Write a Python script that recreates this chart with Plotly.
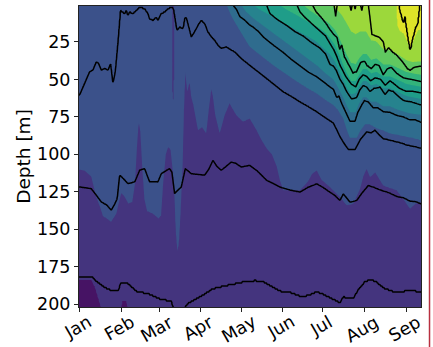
import numpy as np
import pandas as pd
import plotly.graph_objects as go
from plotly.colors import sample_colorscale

# ------------------------------------------------------------------ DATA
base_date = "2019-01-01"
month_labels = ["Jan", "Feb", "Mar", "Apr", "May", "Jun", "Jul", "Aug", "Sep"]
month_ticks = ["2019-01-01", "2019-02-01", "2019-03-01", "2019-04-01", "2019-05-01",
               "2019-06-01", "2019-07-01", "2019-08-01", "2019-09-01"]
depth_ticks = [25, 50, 75, 100, 125, 150, 175, 200]

# black contour lines (day since Jan 1, depth in m), deepest first
line_a_day = [0, 8.4, 13.4, 20.9, 28.3, 30.3, 35.8, 42, 50.7, 60.6, 68, 70.5, 74, 77.5, 80, 83, 88, 93,
              97.9, 103, 107.8, 116, 125, 131, 136.6, 143, 149, 157, 164, 170, 176.4, 181, 186.3, 193.7,
              196.2, 203.7, 207.4, 212, 216.1, 221, 226, 231, 236, 242, 248.4, 254]
line_a_depth = [182, 181, 185.3, 189.8, 191, 186, 186, 191, 192.7, 196.5, 197.6, 204, 207, 203, 199.5, 198,
                195.3, 193, 189.8, 188.5, 187.5, 186, 184.2, 184, 184.6, 188, 190.9, 192, 194.2, 194, 191.3,
                193, 195.3, 198.7, 194.9, 195.8, 189.8, 185, 183.1, 185, 188.7, 190.5, 192, 191, 190.5, 192]

line_b_day = [0, 8.4, 12.2, 15.9, 20, 23.3, 25.5, 27.8, 29.6, 32, 35.8, 40.8, 44.5, 48.2, 51.9, 58.1, 60.6,
              66.8, 68.5, 70.5, 73, 75.5, 78.5, 83, 88, 92.9, 96, 99.1, 102, 105.3, 109, 112.7, 116, 120.2,
              126.4, 132, 139.1, 144, 149, 157, 164, 170, 176.4, 181, 185, 190, 193.7, 196.2, 201.2, 206.2,
              210, 214.8, 219, 223.5, 230, 236, 241, 245.9, 250, 254]
line_b_depth = [121.9, 123, 127.4, 131.9, 134, 137.4, 134, 129.7, 114, 116, 119.7, 118.5, 110.7, 109.6, 118.5,
                118.5, 113, 109.6, 112, 126.3, 124, 121.9, 109.6, 113, 113.5, 114, 110, 104, 108, 110.7, 108,
                105.2, 106, 108.5, 107.4, 111, 117.4, 119.5, 121.9, 124, 125.2, 122, 119.7, 122, 124.5, 127.5,
                130.8, 126.3, 131.9, 130.8, 126, 120.8, 122, 123.7, 125.5, 128.1, 129, 131.2, 131.5, 133]

line_c_day = [-0.25, 3.5, 7.2, 9.7, 12.2, 13.9, 15.9, 18.4, 20.9, 22.9, 24.6, 26.3, 28.3, 30.1, 33.3, 34.5,
              35.8, 37, 39.5, 42, 44.5, 48.2, 50.7, 51.9, 54.4, 56.9, 58.1, 60.6, 63.1, 65.6, 68.1, 69.8, 71,
              72.3, 74.3, 76.8, 78, 79.2, 80.5, 83, 85.4, 87.9, 90.4, 92.9, 95.4, 97.9, 100.3, 102.8, 105.3,
              109, 112.8, 115.3, 120.2, 126.4, 133, 139.1, 145, 151.5, 158, 163.9, 170, 176.4, 182, 188.8,
              191, 193.8, 197, 200, 205, 209, 213.6, 217, 219.8, 223, 226, 231, 236, 240, 243.5, 248, 254]
line_c_depth = [60.4, 52.6, 44.8, 43.7, 38.1, 39.2, 43.7, 42.6, 43.7, 39.2, 52.6, 44.8, 24.8, 3.6, 5.8, 3.6,
                7, 4.7, 5.8, 3.6, 1.4, 2.5, 5.8, 9.2, 10.3, 8.1, 10.3, 5.8, 4.7, 2.5, 1.4, 2.5, 9.2, 17, 14.8,
                15.9, 9.2, 8.1, 12.5, 21.4, 18.1, 13.6, 10.3, 12.5, 18.1, 21.4, 23.7, 27, 29.2, 28.1, 30.3,
                31.5, 35.9, 40.4, 45, 49.3, 53.5, 58.2, 61.5, 64.9, 68, 71.5, 75, 79, 83, 88.2, 93, 96.7, 96.7,
                90, 85, 85.5, 83.8, 87, 89.5, 90.5, 91.6, 92.5, 93.8, 94.5, 95.8]

line_d_day = [0, 111, 114, 116.5, 119.2, 122.7, 126.4, 129, 133, 137, 144, 151.5, 158, 164, 170, 176.4, 182,
              186.3, 188.8, 191.3, 193, 195, 198.7, 201.2, 204.9, 207, 209.9, 212, 214.9, 218.6, 222, 226,
              231, 236, 241, 245.9, 250, 254]
line_d_depth = [-3, -3, 0, 3, 8, 10.3, 13.6, 15, 18, 22, 27, 32, 37, 41, 45, 48.2, 52, 55, 56.5, 62, 61, 66,
                73, 78, 78, 72, 67, 64, 65, 69, 69, 71.5, 72, 74, 75, 77, 77, 78.5]

line_e_day = [0, 136, 139, 141.6, 147, 154, 160, 166.4, 172, 178.8, 183, 186.3, 188.8, 191, 193.8, 196,
              198.7, 202.4, 206.2, 208.5, 211.1, 213.5, 216.1, 219, 223.6, 227.3, 230, 233.5, 237, 241, 247, 254]
line_e_depth = [-6, -6, 0, 6, 10, 14, 18, 21, 25, 29, 33, 40, 41, 44, 50, 53, 58, 63, 62, 57, 54, 55, 58, 56,
                55, 60, 57, 58, 61, 64, 65, 67]

line_f_day = [0, 158, 161.5, 164, 168, 173, 178, 183, 186.3, 189, 191.5, 194, 198, 202, 205.5, 208, 211,
              213.5, 216.5, 220, 224, 227.5, 231, 234, 238, 243, 248, 254]
line_f_depth = [-9, -9, 0, 5, 9, 13, 17, 21, 26, 30, 35, 41, 48, 53, 55, 50, 47, 48, 51, 49, 50, 54, 51, 53,
                56, 58, 58, 59]

line_g_day = [0, 170, 173, 176, 180, 183.5, 186.3, 189, 191.5, 193.5, 195, 197, 200, 203.5, 206, 209, 212,
              214, 217, 220, 223, 226, 229, 232, 236, 241, 247, 254]
line_g_depth = [-12, -12, 0, 5, 9, 13, 17, 20, 22, 30, 27, 35, 40, 46, 45, 39, 38, 41, 43, 40, 41, 47, 43,
                42, 46, 49, 50, 51.5]

line_h_day = [0, 187, 189, 190.5, 192, 194, 200, 202, 203.5, 205, 206.5, 208.5, 210, 211.5, 214.5, 216,
              217.5, 220, 223, 226, 227.5, 230, 233, 236, 240, 244, 246, 249, 254]
line_h_depth = [-15, -15, -2, 8, -2, -10, -4, 4, -3, 3, -5, -2, 4, -3, -3, 8, 20, 21, 22, 25, 32, 29, 32,
                34, 38, 43, 44, 42, 41.5]

line_i_day = [0, 235, 237.2, 238.5, 239.7, 241, 242.2, 243.4, 244.7, 246.2, 247.4, 248.6, 250, 251.4, 252.9, 254]
line_i_depth = [-18, -18, 0, 9, 12.5, 17, 12, 20, 28, 35, 29, 25, 20, 18, 6, -2]

# filled-band boundaries (band k-1 below / band k above), deepest first
fill_b1_day = [0, 8.4, 11, 14, 16.5, 19, 29, 30.3, 31.5, 34.5, 35.8, 37.5, 254]
fill_b1_depth = [184, 183, 188, 197, 204, 215, 215, 203, 198, 198, 203, 215, 215]

fill_b2_day = [0, 3.5, 8.4, 12.2, 14.9, 17.1, 20, 23.3, 25.5, 27.3, 28.3, 30.8, 33, 36, 39, 41, 42.5, 43.8,
               45, 46.5, 48, 50, 54.7, 58.5, 60.5, 62, 64, 65.8, 67.5, 69, 70.2, 71.2, 72.5, 73.8, 75, 76.5,
               77.5, 78.5, 80, 81.7, 83, 84.5, 87.9, 91, 94.1, 96, 97.9, 99.2, 100.8, 102.5, 104.1, 106,
               107.8, 111.5, 114, 116.5, 119, 121.5, 126.4, 131.7, 135, 139.1, 143, 146.6, 149, 151.5, 158,
               164, 170, 173, 176.4, 180, 186.3, 193.7, 198.7, 203.7, 208.7, 211, 213.6, 216.1, 220, 226,
               236, 241, 245.9, 250, 254]
fill_b2_depth = [110.5, 111, 115, 129, 135, 141.5, 143, 145.2, 142, 139.5, 135, 126, 128, 133, 132, 120, 95,
                 78, 85, 110, 130, 138, 140, 143, 141, 120, 100, 95, 97, 110, 122, 150, 165, 160, 140, 108,
                 70, 45, 58, 51.5, 62, 67, 83.8, 82, 86, 70, 56, 62, 73.8, 80, 86, 80, 73.8, 66, 70, 73.8,
                 76, 78.2, 76, 84, 90, 96, 100, 108, 117.4, 124, 124, 124, 118, 113, 110.7, 117, 121.9,
                 128.5, 134.1, 133, 123, 115, 109.6, 115.2, 112, 120.8, 124, 130, 136.3, 133, 131.9]

fill_b3_day = [0, 107, 109.5, 112, 115.3, 119, 122.7, 126.4, 132, 139.1, 145, 151.5, 158, 163.9, 170, 176.4,
               182, 188.8, 192, 196.2, 199, 201.2, 206.2, 209, 212.4, 216, 221.1, 226, 231, 237, 243.4, 248, 254]
fill_b3_depth = [-3, -3, 0, 6, 11.4, 17, 22.5, 28, 32, 37, 41, 45, 49, 52.6, 56, 59.3, 63, 67, 70, 76, 84,
                 89, 89, 84, 80, 80, 82.6, 84, 86, 87, 88.2, 89, 90.5]

fill_b4_day = [0, 117, 120, 124, 129, 135, 141, 147, 153, 159, 165, 171, 177, 183, 188.8, 192, 196, 199,
               201.5, 205.5, 208, 211, 213.5, 217, 221, 226, 231, 236, 243, 248, 254]
fill_b4_depth = [-6, -6, 0, 5, 9, 13, 17, 21, 25, 29, 33, 37, 41, 46, 50, 55, 62, 68, 72, 72, 66, 62, 62,
                 65, 65, 68, 68, 70, 72, 73, 73.5]

fill_b5_day = [0, 126, 129, 133, 139, 145, 151, 157, 163, 169, 175, 180, 186, 190, 193, 196, 199, 202,
               205.5, 208, 211, 213.5, 217, 221, 226, 231, 236, 243, 248, 254]
fill_b5_depth = [-9, -9, 0, 3, 6, 9, 12, 15, 18, 21, 24, 28, 33, 38, 44, 50, 56, 60, 59, 55, 51, 51, 54,
                 53, 56, 56, 58, 61, 62, 63]

fill_b6_day = [0, 145, 148, 153, 159, 165, 171, 177, 182, 186, 190, 193, 196, 199, 202, 205.5, 208, 211,
               213.5, 217, 221, 226, 231, 236, 243, 248, 254]
fill_b6_depth = [-12, -12, 0, 3, 6, 9, 12, 15, 18, 22, 27, 33, 40, 46, 51, 51, 47, 43, 43, 46, 45, 48, 48,
                 50, 53, 54, 55]

fill_b7_day = [0, 163, 166, 171, 176, 181, 186, 190, 193, 196, 199, 202, 205.5, 208, 211, 213.5, 217, 221,
               226, 231, 236, 243, 248, 254]
fill_b7_depth = [-15, -15, 0, 4, 7, 10, 13, 17, 22, 28, 34, 39, 40, 36, 33, 33, 37, 36, 40, 40, 42, 45, 46, 47]

fill_b8_day = [0, 184, 187, 191, 195, 199, 202, 205.5, 209, 213, 217, 221, 226, 231, 236, 243, 248, 254]
fill_b8_depth = [-18, -18, 0, 3, 7, 13, 18, 20, 18, 18, 24, 25, 30, 31, 33, 37, 38.5, 38]

fill_b9_day = [0, 233.5, 235.5, 236.5, 238, 241, 244, 246, 248, 250, 252, 254]
fill_b9_depth = [-21, -21, 0, 18, 22, 24, 30, 34, 30, 25, 22, 21]

# thin purple intrusion from the surface in early March
intrusion_day = [68.5, 69.0, 69.5, 70.0, 70.5]
intrusion_depth = [0, 58, 63, 50, 0]

# ------------------------------------------------------------------ FIELDS
grid_days = np.arange(-1.0, 255.5, 0.5)
grid_depth = np.arange(0.0, 211.0, 1.0)


def build_field(curves):
    n = len(curves)
    B = np.vstack([np.interp(grid_days, d, v) for d, v in curves])
    levels = np.arange(n) + 0.5
    Z = np.empty((grid_depth.size, grid_days.size))
    for j in range(grid_days.size):
        xp = np.concatenate(([-1e4], B[::-1, j], [1e4]))
        fp = np.concatenate(([n + 0.5], levels[::-1], [-0.5]))
        Z[:, j] = np.interp(grid_depth, xp, fp)
    return Z


fill_curves = [(fill_b1_day, fill_b1_depth), (fill_b2_day, fill_b2_depth), (fill_b3_day, fill_b3_depth),
               (fill_b4_day, fill_b4_depth), (fill_b5_day, fill_b5_depth), (fill_b6_day, fill_b6_depth),
               (fill_b7_day, fill_b7_depth), (fill_b8_day, fill_b8_depth), (fill_b9_day, fill_b9_depth)]
line_curves = [(line_a_day, line_a_depth), (line_b_day, line_b_depth), (line_c_day, line_c_depth),
               (line_d_day, line_d_depth), (line_e_day, line_e_depth), (line_f_day, line_f_depth),
               (line_g_day, line_g_depth), (line_h_day, line_h_depth), (line_i_day, line_i_depth)]

Zfill = build_field(fill_curves)
intr = np.interp(grid_days, intrusion_day, intrusion_depth, left=0, right=0)
for j in np.where(intr > 0)[0]:
    Zfill[grid_depth <= intr[j], j] = 1.0
Zline = build_field(line_curves)

t0 = pd.Timestamp(base_date)
xdates = (t0 + pd.to_timedelta(grid_days, unit="D")).strftime("%Y-%m-%d %H:%M").tolist()
x_range = [(t0 + pd.Timedelta(days=-0.7)).strftime("%Y-%m-%d %H:%M"),
           (t0 + pd.Timedelta(days=254.1)).strftime("%Y-%m-%d %H:%M")]

band_colors = sample_colorscale("Viridis", [(k + 0.5) / 10 for k in range(10)])
fill_scale = [[k / 9, band_colors[k]] for k in range(10)]

# ------------------------------------------------------------------ FIGURE
fig = go.Figure()
fig.add_trace(go.Contour(
    x=xdates, y=grid_depth, z=np.round(Zfill, 3).tolist(),
    autocontour=False,
    contours=dict(start=0.5, end=8.5, size=1, coloring="fill", showlines=False),
    colorscale=fill_scale, line=dict(width=0, smoothing=0),
    showscale=False, hoverinfo="skip"))
fig.add_trace(go.Contour(
    x=xdates, y=grid_depth, z=np.round(Zline, 3).tolist(),
    autocontour=False,
    contours=dict(start=0.5, end=8.5, size=1, coloring="none"),
    line=dict(color="black", width=1.5, smoothing=0),
    showscale=False, hoverinfo="skip"))

fig.update_layout(
    width=433, height=347,
    margin=dict(l=79, r=12, t=6, b=40),
    paper_bgcolor="white", plot_bgcolor="white",
    font=dict(family="DejaVu Sans", color="black", size=17.5),
    showlegend=False)
fig.update_xaxes(type="date", range=x_range, tickvals=month_ticks, showticklabels=False,
                 ticks="outside", ticklen=4, tickwidth=1, tickcolor="#222",
                 showline=True, linecolor="#222", linewidth=1, mirror=True,
                 showgrid=False, zeroline=False, automargin=False)
fig.update_yaxes(range=[202, 1], tickvals=depth_ticks, ticks="outside", ticklen=4, tickwidth=1,
                 tickcolor="#222", showline=True, linecolor="#222", linewidth=1, mirror=True,
                 showgrid=False, zeroline=False, automargin=False,
                 tickfont=dict(size=17.5),
                 title=dict(text="Depth [m]", font=dict(size=18.5), standoff=1))

for lab, tv in zip(month_labels, month_ticks):
    fig.add_annotation(x=tv, y=-0.007, xref="x", yref="paper", text=lab, showarrow=False,
                       textangle=-30, xanchor="center", yanchor="top", xshift=-2,
                       font=dict(size=17.5, family="DejaVu Sans", color="black"))

fig.add_shape(type="line", xref="paper", yref="paper", x0=1.0249, x1=1.0249,
              y0=-40 / 301, y1=1 + 6 / 301, line=dict(color="#b83040", width=1.5))

fig.write_html("out.html", config={"displayModeBar": False},
               post_script="document.body.style.margin='0px';")
